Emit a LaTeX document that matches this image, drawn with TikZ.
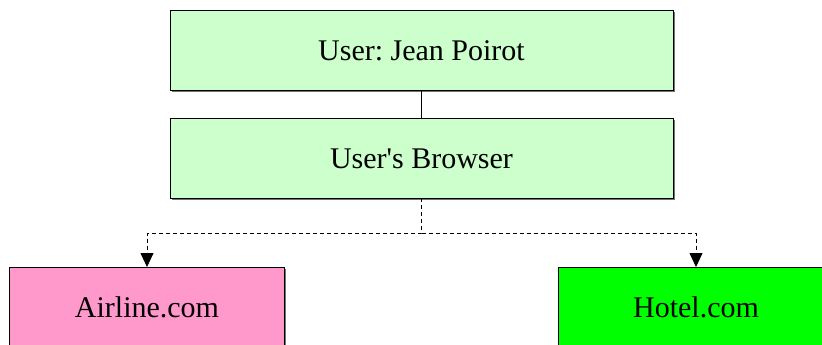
\documentclass[tikz,border=0pt]{standalone}
\usepackage{fontspec}
\setmainfont{Liberation Serif}
\usetikzlibrary{arrows.meta,shadows}
\frenchspacing
\definecolor{palegreen}{HTML}{CCFFCC}
\definecolor{sitepink}{HTML}{FF99CC}
\definecolor{sitegreen}{HTML}{00FF00}
\tikzset{
  box/.style={draw=black, line width=0.9pt, inner sep=0pt, outer sep=0pt,
    text height=20pt, text depth=0pt,
    font=\fontsize{30}{36}\selectfont,
    drop shadow={shadow xshift=1.6pt, shadow yshift=-1.6pt, fill=black!55, opacity=1}},
  userbox/.style={box, fill=palegreen, minimum width=503pt, minimum height=80pt},
  sitebox/.style={box, minimum width=275pt, minimum height=80pt},
  link/.style={draw=black, line width=0.8pt},
  call/.style={draw=black, line width=0.8pt, dash pattern=on 4pt off 3pt,
    -{Triangle[length=14pt,width=13pt]}}
}
\begin{document}
\begin{tikzpicture}
  \useasboundingbox (0pt,0pt) rectangle (822pt,-345pt);
  \clip (0pt,0pt) rectangle (822pt,-345pt);
  \node[userbox] (user) at (421.5pt,-50pt) {User: Jean Poirot};
  \node[userbox] (browser) at (421.5pt,-158pt) {User\textquotesingle s Browser};
  \node[sitebox, fill=sitepink] (airline) at (147pt,-307pt) {Airline.com};
  \node[sitebox, fill=sitegreen] (hotel) at (696pt,-307pt) {Hotel.com};
  \draw[link] (user.south) -- (browser.north);
  \coordinate (split) at ([yshift=-35pt]browser.south);
  \draw[call] (browser.south) -- (split) -| (airline.north);
  \draw[call] (split) -| (hotel.north);
\end{tikzpicture}
\end{document}
